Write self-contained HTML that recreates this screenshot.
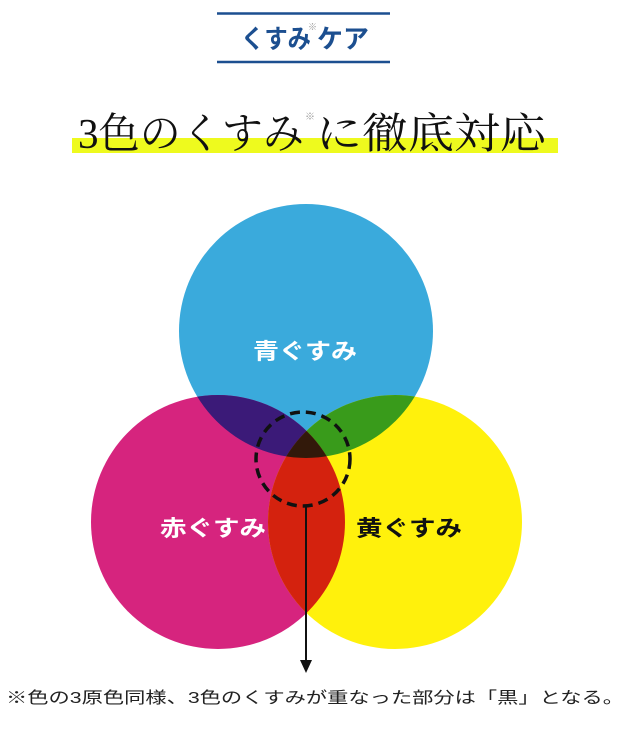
<!DOCTYPE html>
<html><head><meta charset="utf-8"><style>
html,body{margin:0;padding:0;background:#fff;}
body{width:631px;height:739px;overflow:hidden;}
</style></head><body>
<svg width="631" height="739" viewBox="0 0 631 739" xmlns="http://www.w3.org/2000/svg">
<defs>
<clipPath id="cb"><circle cx="306" cy="331" r="127"/></clipPath>
<clipPath id="cr"><circle cx="218" cy="522" r="127"/></clipPath>
</defs>
<line x1="217" y1="13.5" x2="390" y2="13.5" stroke="#1c4f90" stroke-width="2.5"/>
<line x1="217" y1="62" x2="390" y2="62" stroke="#1c4f90" stroke-width="2.5"/>
<text x="241" y="48" font-family="Liberation Sans,'Noto Sans CJK JP',sans-serif" font-weight="bold" font-size="26" fill="#1c4f90" textLength="70" lengthAdjust="spacingAndGlyphs">くすみ</text>
<text x="308" y="30" font-family="'Noto Sans CJK JP',sans-serif" font-size="9" fill="#999">※</text>
<text x="317" y="48" font-family="Liberation Sans,'Noto Sans CJK JP',sans-serif" font-weight="bold" font-size="26" fill="#1c4f90" textLength="52" lengthAdjust="spacingAndGlyphs">ケア</text>

<rect x="72" y="138" width="486" height="15" fill="#eefa1e"/>
<text x="78" y="148" font-family="Liberation Serif,'Noto Serif CJK SC',serif" font-size="42" fill="#111" textLength="226" lengthAdjust="spacingAndGlyphs">3色のくすみ</text>
<text x="305" y="120" font-family="'Noto Sans CJK JP',sans-serif" font-size="10" fill="#999">※</text>
<text x="316" y="148" font-family="Liberation Serif,'Noto Serif CJK SC',serif" font-size="42" fill="#111" textLength="230" lengthAdjust="spacingAndGlyphs">に徹底対応</text>

<circle cx="306" cy="331" r="127" fill="#3aaadc"/>
<circle cx="218" cy="522" r="127" fill="#d6247e"/>
<circle cx="395" cy="522" r="127" fill="#fff10c"/>
<g clip-path="url(#cb)">
<circle cx="218" cy="522" r="127" fill="#3b1a78"/>
<circle cx="395" cy="522" r="127" fill="#399b1b"/>
</g>
<g clip-path="url(#cr)"><circle cx="395" cy="522" r="127" fill="#d4220e"/></g>
<g clip-path="url(#cb)"><g clip-path="url(#cr)"><circle cx="395" cy="522" r="127" fill="#32190a"/></g></g>

<circle cx="303" cy="459" r="47" fill="none" stroke="#111" stroke-width="3.5" stroke-dasharray="10,6"/>
<line x1="306" y1="506" x2="306" y2="662" stroke="#111" stroke-width="2"/>
<polygon points="300,660 312,660 306,673" fill="#111"/>

<g font-family="Liberation Sans,'Noto Sans CJK JP',sans-serif" font-weight="bold" font-size="22" lengthAdjust="spacingAndGlyphs">
<text x="253" y="359" fill="#fff" textLength="104" lengthAdjust="spacingAndGlyphs">青ぐすみ</text>
<text x="160" y="536" fill="#fff" textLength="106" lengthAdjust="spacingAndGlyphs">赤ぐすみ</text>
<text x="356" y="536" fill="#111" textLength="106" lengthAdjust="spacingAndGlyphs">黄ぐすみ</text>
</g>
<text x="6" y="703" font-family="Liberation Sans,'Noto Sans CJK JP',sans-serif" font-size="16" fill="#222" textLength="618" lengthAdjust="spacingAndGlyphs">※色の3原色同様、3色のくすみが重なった部分は「黒」となる。</text>
</svg>
</body></html>
